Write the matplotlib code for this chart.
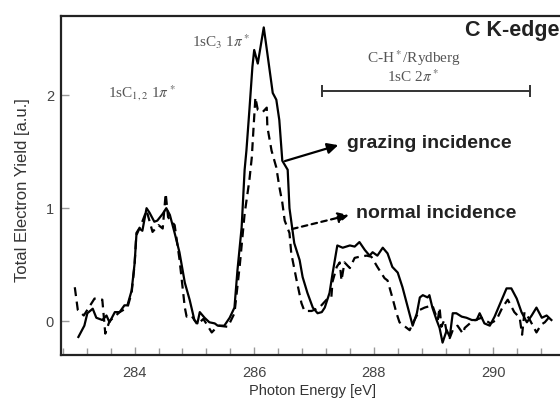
import numpy as np
import matplotlib
matplotlib.use("Agg")
import matplotlib.pyplot as plt
from matplotlib.ticker import MultipleLocator

# --- data ---
e_grazing = [283.06, 283.16, 283.21, 283.30, 283.36, 283.46, 283.53, 283.58, 283.67, 283.75,
             283.83, 283.88, 283.95, 284.00, 284.03, 284.08, 284.13, 284.20, 284.25, 284.33,
             284.38, 284.47, 284.53, 284.59, 284.67, 284.75, 284.84, 284.92, 285.00, 285.05,
             285.09, 285.17, 285.25, 285.34, 285.39, 285.50, 285.59, 285.67, 285.72, 285.79,
             285.84, 285.87, 285.92, 285.97, 286.00, 286.06, 286.16, 286.22, 286.31, 286.37,
             286.42, 286.47, 286.56, 286.59, 286.67, 286.76, 286.81, 286.89, 286.98, 287.06,
             287.13, 287.18, 287.26, 287.31, 287.39, 287.48, 287.60, 287.68, 287.76, 287.85,
             287.93, 287.98, 288.06, 288.15, 288.23, 288.31, 288.40, 288.48, 288.57, 288.65,
             288.72, 288.77, 288.82, 288.90, 288.93, 288.98, 289.05, 289.10, 289.15, 289.22,
             289.27, 289.32, 289.38, 289.47, 289.55, 289.64, 289.72, 289.77, 289.85, 289.94,
             290.02, 290.10, 290.22, 290.30, 290.39, 290.47, 290.56, 290.64, 290.72, 290.81,
             290.89, 290.97]
y_grazing = [-0.14, -0.04, 0.07, 0.11, 0.03, 0.01, 0.05, -0.01, 0.08, 0.08,
             0.14, 0.14, 0.27, 0.51, 0.76, 0.82, 0.80, 1.00, 0.96, 0.88,
             0.89, 0.95, 1.00, 0.94, 0.78, 0.61, 0.34, 0.19, 0.01, -0.02,
             0.08, 0.03, -0.01, -0.02, -0.04, -0.04, 0.03, 0.12, 0.45, 0.83,
             1.34, 1.51, 1.87, 2.25, 2.40, 2.28, 2.60, 2.37, 2.02, 1.96,
             1.78, 1.42, 1.34, 1.00, 0.69, 0.54, 0.39, 0.25, 0.12, 0.07,
             0.08, 0.12, 0.25, 0.42, 0.67, 0.65, 0.67, 0.66, 0.70, 0.63,
             0.58, 0.61, 0.58, 0.65, 0.60, 0.48, 0.43, 0.30, 0.12, -0.04,
             0.07, 0.21, 0.23, 0.21, 0.23, 0.12, 0.01, -0.06, -0.19, -0.08,
             -0.14, 0.07, 0.07, 0.04, 0.03, 0.01, 0.01, 0.07, -0.02, -0.04,
             0.04, 0.14, 0.29, 0.29, 0.20, 0.08, -0.01, 0.05, 0.12, 0.03,
             0.05, 0.01]

e_normal = [283.00, 283.05, 283.15, 283.33, 283.46, 283.51, 283.58, 283.75, 283.88, 283.95,
            284.00, 284.03, 284.10, 284.20, 284.30, 284.40, 284.47, 284.52, 284.56, 284.67,
            284.75, 284.84, 284.87, 284.95, 285.05, 285.15, 285.29, 285.40, 285.56, 285.67,
            285.76, 285.84, 285.92, 285.96, 285.99, 286.02, 286.06, 286.14, 286.21, 286.22,
            286.29, 286.37, 286.42, 286.47, 286.51, 286.59, 286.62, 286.71, 286.79, 286.84,
            286.96, 287.09, 287.21, 287.29, 287.31, 287.38, 287.43, 287.46, 287.51, 287.60,
            287.68, 287.76, 287.88, 287.96, 288.06, 288.18, 288.23, 288.31, 288.38, 288.43,
            288.60, 288.65, 288.77, 288.85, 288.98, 289.02, 289.07, 289.10, 289.13, 289.18,
            289.22, 289.27, 289.32, 289.40, 289.49, 289.52, 289.65, 289.80, 289.95, 290.05,
            290.15, 290.24, 290.35, 290.44, 290.48, 290.52, 290.60, 290.72, 290.80, 290.86,
            290.94]
y_normal = [0.30, 0.10, 0.05, 0.20, 0.19, -0.11, 0.00, 0.08, 0.12, 0.25,
            0.50, 0.78, 0.84, 0.98, 0.79, 0.85, 0.82, 1.13, 0.92, 0.85,
            0.55, 0.12, 0.04, 0.05, -0.03, 0.02, -0.10, -0.04, -0.05, 0.07,
            0.50, 0.95, 1.25, 1.45, 1.72, 1.98, 1.87, 1.85, 1.89, 1.72,
            1.51, 1.36, 1.19, 1.05, 0.89, 0.78, 0.60, 0.36, 0.16, 0.09,
            0.09, 0.12, 0.19, 0.21, 0.35, 0.48, 0.52, 0.36, 0.52, 0.47,
            0.56, 0.57, 0.58, 0.57, 0.48, 0.38, 0.36, 0.21, 0.07, -0.01,
            -0.08, -0.02, 0.10, 0.12, 0.14, 0.08, 0.01, 0.12, -0.05, 0.01,
            -0.10, -0.15, -0.08, -0.04, -0.11, -0.06, 0.00, 0.03, -0.02, 0.01,
            0.12, 0.19, 0.08, 0.03, -0.12, 0.08, 0.02, -0.10, -0.03, -0.01,
            0.04]

x_ticks = [284, 286, 288, 290]
y_ticks = [0, 1, 2]
rydberg_range = [287.14, 290.62]
# ----------------------------------

plt.rcParams['font.family'] = 'Liberation Sans'
plt.rcParams['mathtext.fontset'] = 'stix'

fig = plt.figure(figsize=(5.6, 4.03), dpi=100)
ax = fig.add_axes([0.109, 0.119, 0.95, 0.841])

ax.plot(e_grazing, y_grazing, color='black', lw=1.6)
ax.plot(e_normal, y_normal, color='black', lw=1.6, linestyle=(0, (4, 2.5)))

ax.set_xlim(282.77, 282.77 + 0.95 * 560 / 59.8)
ax.set_ylim(-0.30, 2.70)

ax.set_xticks(x_ticks)
ax.set_yticks(y_ticks)
ax.xaxis.set_minor_locator(MultipleLocator(0.4))
ax.tick_params(which='both', direction='in', color='#999999', labelcolor='#444444',
               labelsize=10.5, width=1)
ax.tick_params(which='major', length=6)
ax.tick_params(which='minor', length=5)
ax.tick_params(axis='x', pad=8)
ax.tick_params(axis='y', pad=5)

for side in ['left', 'bottom', 'top', 'right']:
    ax.spines[side].set_linewidth(1.6)
    ax.spines[side].set_color('#222222')

ax.set_xlabel('Photon Energy [eV]', fontsize=10.5, color='#333333')
ax.xaxis.set_label_coords((312 - 61) / 532, -0.085)
ax.set_ylabel('Total Electron Yield [a.u.]', fontsize=12, color='#333333')
ax.yaxis.set_label_coords(-0.059, 0.487)

serif = dict(family='Liberation Serif', fontsize=11, color='#555555')
ax.text(285.45, 2.47, r'1sC$_3$ 1$\pi^*$', ha='center', va='center', **serif)
ax.text(284.12, 2.02, r'1sC$_{1,2}$ 1$\pi^*$', ha='center', va='center', **serif)
ax.text(288.68, 2.33, r'C-H$^*$/Rydberg', ha='center', va='center', **serif)
ax.text(288.65, 2.16, r'1sC 2$\pi^*$', ha='center', va='center', **serif)

ax.plot(rydberg_range, [2.04, 2.04], color='#333333', lw=1.4,
        marker='|', markersize=8, markeredgewidth=1.4)

ax.text(289.52, 2.575, 'C K-edge', fontsize=15.5, fontweight='bold', ha='left',
        va='center', color='#222222')

ax.annotate('', xy=(287.45, 1.565), xytext=(286.47, 1.41),
            arrowprops=dict(arrowstyle='-|>', color='black', lw=1.6, mutation_scale=16))
ax.text(287.55, 1.575, 'grazing incidence', fontsize=14, fontweight='bold',
        ha='left', va='center', color='#222222')

ax.annotate('', xy=(287.63, 0.945), xytext=(286.59, 0.81),
            arrowprops=dict(arrowstyle='-|>', color='black', lw=1.6, mutation_scale=16,
                            linestyle=(0, (2.5, 2))))
ax.text(287.70, 0.956, 'normal incidence', fontsize=14, fontweight='bold',
        ha='left', va='center', color='#222222')

fig.savefig('out.png', dpi=100)
